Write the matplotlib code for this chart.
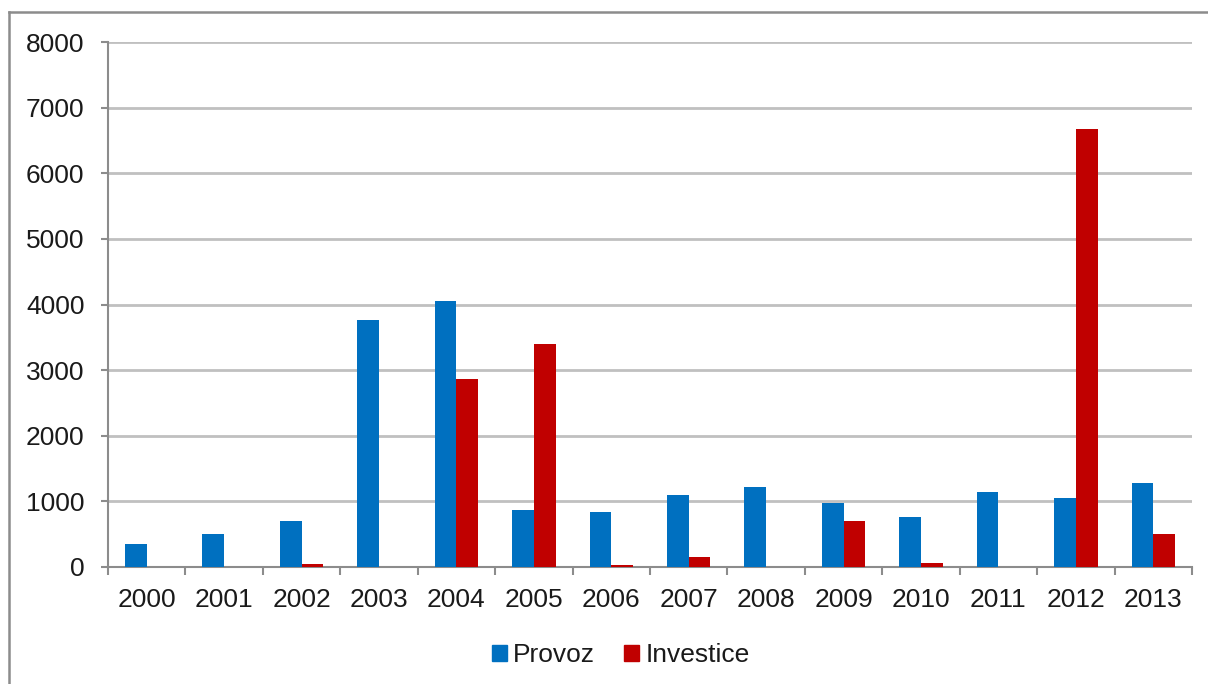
import matplotlib
matplotlib.use("Agg")
import matplotlib.pyplot as plt
import numpy as np
from matplotlib.lines import Line2D
from matplotlib.patches import Patch

years = ["2000", "2001", "2002", "2003", "2004", "2005", "2006",
         "2007", "2008", "2009", "2010", "2011", "2012", "2013"]
provoz = [350, 510, 705, 3760, 4055, 865, 840, 1090, 1225, 980, 760, 1150, 1050, 1275]
investice = [0, 0, 40, 0, 2870, 3395, 35, 145, 0, 705, 60, 0, 6680, 505]
y_ticks = [0, 1000, 2000, 3000, 4000, 5000, 6000, 7000, 8000]

BLUE = "#0070C0"
RED = "#C00000"
GRID = "#C0C0C0"
AXIS = "#8C8C8C"

plt.rcParams["font.family"] = ["Liberation Sans", "DejaVu Sans"]

W, H = 1208, 684
fig = plt.figure(figsize=(W / 100, H / 100), dpi=100)
ax = fig.add_axes([108 / W, 1 - 567 / H, (1192 - 108) / W, (567 - 42) / H])

x = np.arange(len(years))
bw = 0.28
ax.bar(x - bw / 2, provoz, width=bw, color=BLUE, zorder=3, label="Provoz")
ax.bar(x + bw / 2, investice, width=bw, color=RED, zorder=3, label="Investice")

ax.set_xlim(-0.5, len(years) - 0.5)
ax.set_ylim(0, 8000)
ax.set_yticks(y_ticks)
ax.set_yticklabels([str(v) for v in y_ticks])
ax.set_xticks(x)
ax.set_xticklabels(years)
ax.set_xticks(np.arange(len(years) + 1) - 0.5, minor=True)

ax.tick_params(axis="x", which="major", length=0, labelsize=19, pad=15, colors="#1a1a1a")
ax.tick_params(axis="x", which="minor", length=6, width=1.5, color=AXIS, direction="out")
ax.tick_params(axis="y", length=5, width=1.5, color=AXIS, labelsize=19, pad=12,
               labelcolor="#1a1a1a")

ax.grid(axis="y", color=GRID, linewidth=2, zorder=0)
for s in ["top", "right"]:
    ax.spines[s].set_visible(False)
for s in ["left", "bottom"]:
    ax.spines[s].set_color(AXIS)
    ax.spines[s].set_linewidth(1.5)

handles = [Patch(color=BLUE), Patch(color=RED)]
fig.legend(handles, ["Provoz", "Investice"], loc="center",
           bbox_to_anchor=(621 / W, 1 - 655 / H), ncol=2, frameon=False,
           fontsize=19, handlelength=0.55, handleheight=0.55,
           handletextpad=0.25, columnspacing=1.1, labelcolor="#1a1a1a")

# outer chart frame (left and top edges visible)
fig.add_artist(Line2D([9 / W, 9 / W], [0, 1 - 12 / H], transform=fig.transFigure,
                      color="#8C8C8C", linewidth=1.8))
fig.add_artist(Line2D([9 / W, 1], [1 - 12 / H, 1 - 12 / H], transform=fig.transFigure,
                      color="#8C8C8C", linewidth=1.8))

fig.savefig("out.png", dpi=100, facecolor="white")
